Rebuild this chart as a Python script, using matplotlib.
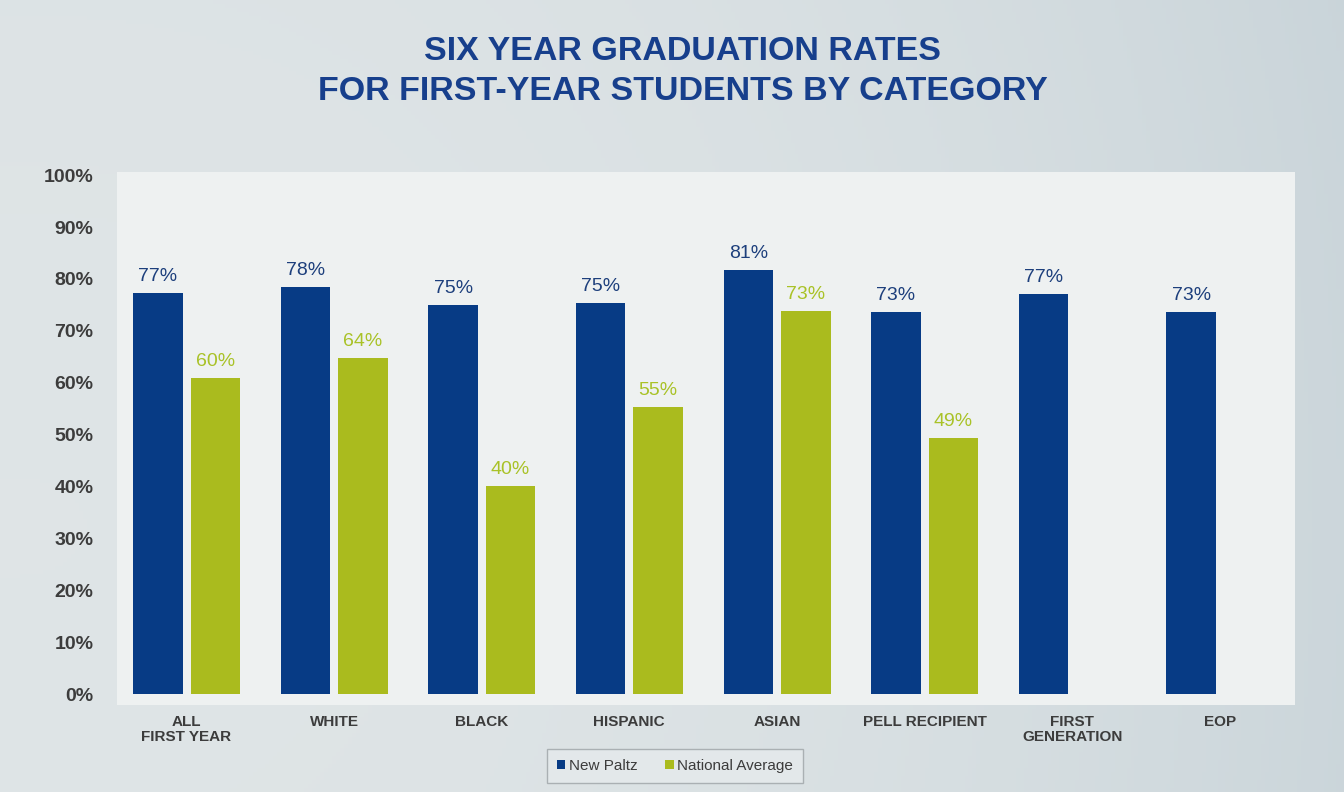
import numpy as np
import matplotlib
matplotlib.use("Agg")
import matplotlib.pyplot as plt
from matplotlib.patches import Patch
from matplotlib import font_manager

# Chart data
categories = ["ALL\nFIRST YEAR", "WHITE", "BLACK", "HISPANIC", "ASIAN",
              "PELL RECIPIENT", "FIRST\nGENERATION", "EOP"]
new_paltz = [77.3, 78.4, 75.0, 75.3, 81.7, 73.6, 77.1, 73.6]
new_paltz_labels = ["77%", "78%", "75%", "75%", "81%", "73%", "77%", "73%"]
national = [60.9, 64.7, 40.1, 55.3, 73.8, 49.3]
national_labels = ["60%", "64%", "40%", "55%", "73%", "49%"]
y_ticks = [0, 10, 20, 30, 40, 50, 60, 70, 80, 90, 100]

NAVY = "#073b85"
GREEN = "#aabb1e"
GREEN_TEXT = "#a9c227"
LABEL_NAVY = "#1d3f7c"
GRAY_TEXT = "#3c3c3c"
TITLE_NAVY = "#173f8c"

# Condensed font if available (the original uses a narrow bold face)
installed = {f.name for f in font_manager.fontManager.ttflist}
NARROW = "Liberation Sans Narrow" in installed
if NARROW:
    cond_family = "Liberation Sans Narrow"
    title_size, cat_size = 29.5, 13
else:
    cond_family = "Liberation Sans"
    title_size, cat_size = 24.5, 11
plt.rcParams["font.family"] = ["Liberation Sans", "DejaVu Sans"]

fig = plt.figure(figsize=(13.44, 7.92), dpi=100)

# Soft grey-blue background gradient
bg = fig.add_axes([0, 0, 1, 1], zorder=-10)
yy, xx = np.mgrid[0:1:200j, 0:1:340j]
shade = np.clip(0.6 * xx ** 2.5 + 0.1 * (1 - yy) + 0.15 * yy ** 2, 0, 1)
light = np.array([0.885, 0.905, 0.91])
dark = np.array([0.76, 0.81, 0.835])
img = light[None, None, :] * (1 - shade[..., None]) + dark[None, None, :] * shade[..., None]
bg.imshow(img, extent=[0, 1, 0, 1], aspect="auto", origin="lower")
bg.axis("off")

# Plot area
ax = fig.add_axes([117 / 1344, 1 - 705 / 792, (1295 - 117) / 1344, (705 - 172) / 792])
ax.set_facecolor("#eef1f1")
for s in ax.spines.values():
    s.set_visible(False)

x = np.arange(len(categories))
bar_w = 0.335
ax.bar(x - 0.193, new_paltz, width=bar_w, color=NAVY, zorder=3)
ax.bar(x[:len(national)] + 0.196, national, width=bar_w, color=GREEN, zorder=3)

for xi, v, lab in zip(x - 0.193, new_paltz, new_paltz_labels):
    ax.annotate(lab, (xi, v), xytext=(0, 6), textcoords="offset points",
                ha="center", va="bottom", fontsize=14, color=LABEL_NAVY)
for xi, v, lab in zip(x[:len(national)] + 0.196, national, national_labels):
    ax.annotate(lab, (xi, v), xytext=(0, 6), textcoords="offset points",
                ha="center", va="bottom", fontsize=14, color=GREEN_TEXT)

ax.set_xlim(-0.47, 7.51)
ax.set_ylim(-2.1, 100.6)
ax.set_yticks(y_ticks)
ax.set_yticklabels([f"{t}%" for t in y_ticks], fontsize=14, fontweight="bold",
                   color=GRAY_TEXT)
ax.tick_params(axis="y", length=0, pad=17)
ax.set_xticks(x)
ax.set_xticklabels(categories, fontsize=cat_size, fontweight="bold",
                   color=GRAY_TEXT, family=cond_family, linespacing=1.15)
ax.tick_params(axis="x", length=0, pad=7)

# Title
fig.text(0.508, 1 - 51 / 792, "SIX YEAR GRADUATION RATES", ha="center", va="center",
         fontsize=title_size, fontweight="bold", color=TITLE_NAVY, family=cond_family)
fig.text(0.508, 1 - 92 / 792, "FOR FIRST-YEAR STUDENTS BY CATEGORY", ha="center",
         va="center", fontsize=title_size, fontweight="bold", color=TITLE_NAVY,
         family=cond_family)

# Legend
handles = [Patch(facecolor=NAVY, label="New Paltz"),
           Patch(facecolor=GREEN, label="National Average")]
leg = fig.legend(handles=handles, loc="center", bbox_to_anchor=(675 / 1344, 1 - 766 / 792),
                 ncol=2, fontsize=11, frameon=True, fancybox=False,
                 edgecolor="#aab0b3", facecolor="#e3e8ea", framealpha=1,
                 handlelength=0.55, handleheight=0.55, handletextpad=0.25,
                 columnspacing=1.8, borderpad=0.65, borderaxespad=0.0)
leg.get_frame().set_linewidth(1.0)
for t in leg.get_texts():
    t.set_color(GRAY_TEXT)

fig.savefig("out.png", dpi=100)
